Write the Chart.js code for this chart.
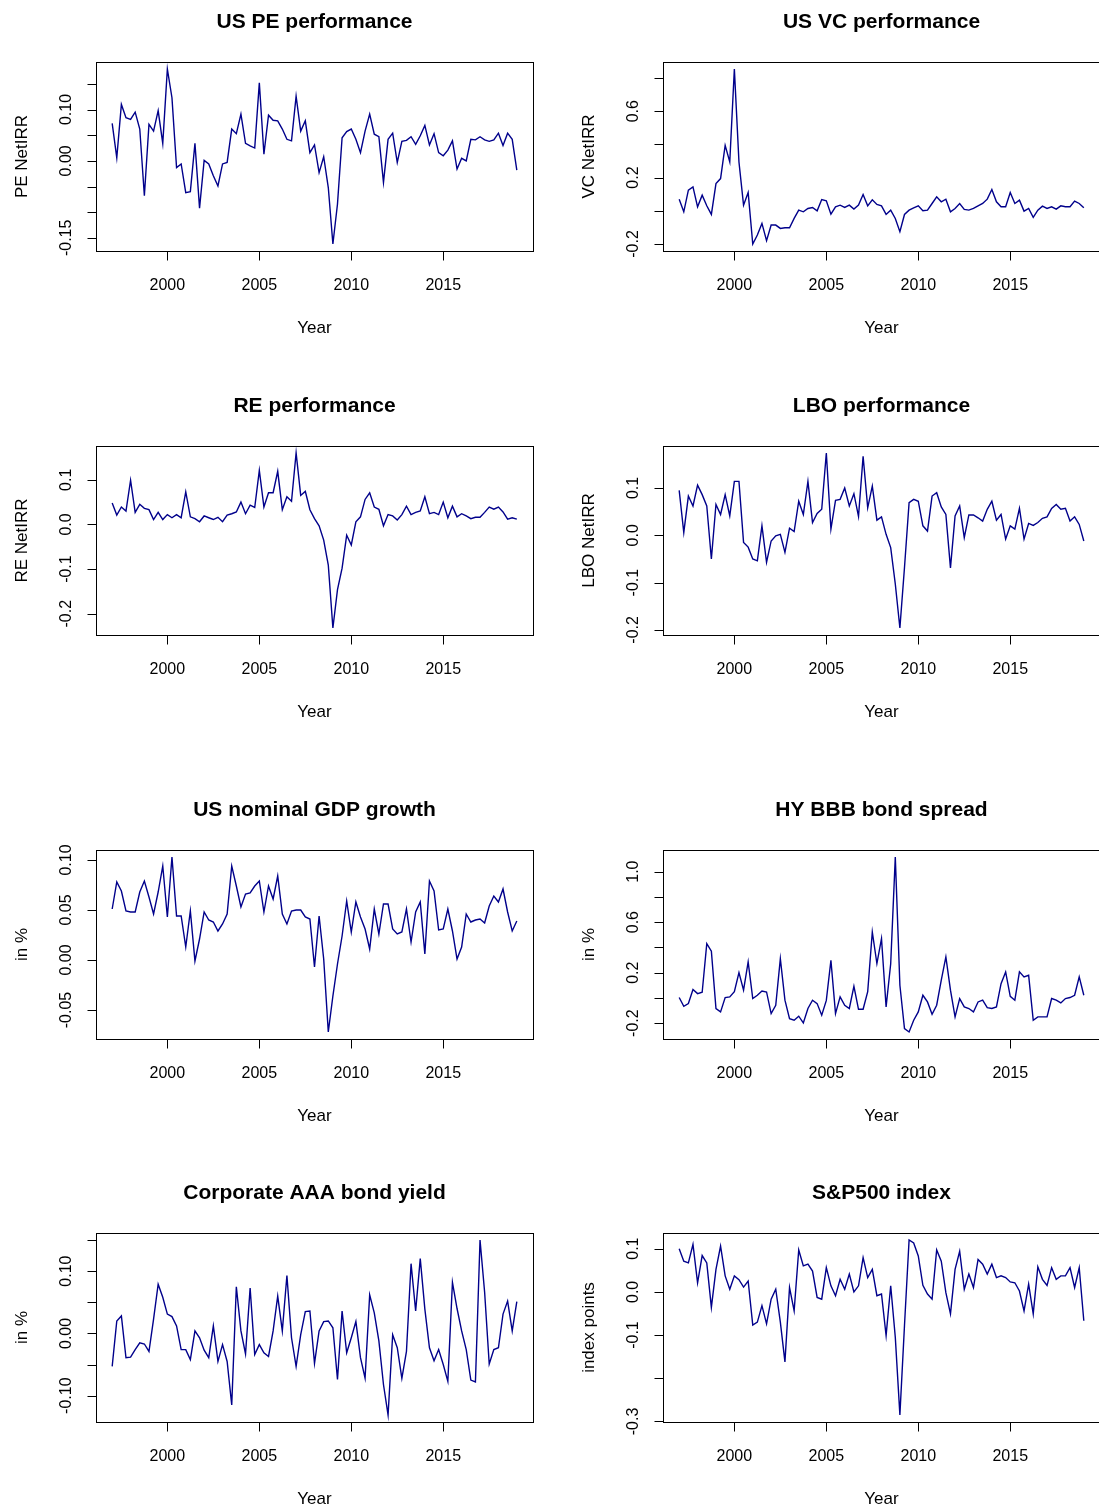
<!DOCTYPE html>
<html>
<head>
<meta charset="utf-8">
<title>Private equity and macro series</title>
<script src="https://cdn.jsdelivr.net/npm/chart.js@4.4.1/dist/chart.umd.min.js"></script>
<style>
  html, body { margin: 0; padding: 0; background: #fff; overflow: hidden; }
  #page { position: relative; width: 1099px; height: 1508px; overflow: hidden; background: #fff; }
  #page canvas { position: absolute; }
</style>
</head>
<body>
<div id="page"></div>
<script>
// Quarterly observations, 1997 Q1 .. 2019 Q1
const quarters = Array.from({ length: 89 }, (_, i) => 1997 + i / 4);

const peIRR = [0.073, 0.006, 0.110, 0.084, 0.081, 0.095, 0.062, -0.068, 0.071, 0.058,
  0.098, 0.034, 0.179, 0.123, -0.013, -0.006, -0.062, -0.060, 0.034, -0.092,
  0.001, -0.006, -0.029, -0.049, -0.006, -0.003, 0.062, 0.053, 0.091, 0.034,
  0.029, 0.025, 0.152, 0.013, 0.089, 0.079, 0.078, 0.062, 0.042, 0.039,
  0.126, 0.058, 0.078, 0.016, 0.031, -0.023, 0.008, -0.052, -0.162, -0.084,
  0.045, 0.057, 0.062, 0.042, 0.016, 0.058, 0.091, 0.052, 0.047, -0.042,
  0.042, 0.054, -0.003, 0.038, 0.040, 0.047, 0.032, 0.049, 0.069, 0.031,
  0.053, 0.016, 0.010, 0.021, 0.039, -0.016, 0.005, 0.000, 0.042, 0.041,
  0.047, 0.041, 0.038, 0.041, 0.054, 0.030, 0.054, 0.042, -0.018];

const vcIRR = [0.070, -0.006, 0.124, 0.144, 0.024, 0.094, 0.030, -0.022, 0.164, 0.194,
  0.394, 0.294, 0.854, 0.294, 0.034, 0.110, -0.200, -0.146, -0.076, -0.180,
  -0.086, -0.086, -0.106, -0.102, -0.102, -0.046, 0.004, -0.006, 0.014, 0.020,
  0.000, 0.068, 0.060, -0.020, 0.024, 0.034, 0.020, 0.034, 0.010, 0.034,
  0.098, 0.030, 0.066, 0.038, 0.030, -0.022, 0.004, -0.046, -0.126, -0.022,
  0.004, 0.018, 0.030, 0.000, 0.004, 0.044, 0.084, 0.054, 0.070, -0.006,
  0.014, 0.044, 0.008, 0.004, 0.014, 0.030, 0.044, 0.070, 0.128, 0.054,
  0.024, 0.024, 0.110, 0.044, 0.064, -0.002, 0.014, -0.040, 0.004, 0.028,
  0.014, 0.024, 0.010, 0.030, 0.024, 0.024, 0.058, 0.044, 0.018];

const reIRR = [0.048, 0.021, 0.039, 0.030, 0.099, 0.027, 0.045, 0.036, 0.033, 0.011,
  0.027, 0.011, 0.022, 0.015, 0.022, 0.015, 0.073, 0.017, 0.013, 0.006,
  0.019, 0.015, 0.011, 0.016, 0.006, 0.021, 0.024, 0.028, 0.050, 0.024,
  0.043, 0.038, 0.121, 0.039, 0.071, 0.071, 0.119, 0.033, 0.062, 0.052,
  0.160, 0.065, 0.074, 0.033, 0.013, -0.003, -0.035, -0.091, -0.232, -0.146,
  -0.098, -0.024, -0.046, 0.006, 0.017, 0.056, 0.071, 0.039, 0.034, -0.003,
  0.022, 0.019, 0.010, 0.022, 0.041, 0.022, 0.027, 0.030, 0.062, 0.024,
  0.027, 0.022, 0.050, 0.015, 0.041, 0.017, 0.024, 0.019, 0.013, 0.016,
  0.016, 0.027, 0.039, 0.034, 0.039, 0.028, 0.012, 0.015, 0.012];

const lboIRR = [0.095, 0.006, 0.083, 0.062, 0.106, 0.086, 0.062, -0.050, 0.065, 0.044,
  0.086, 0.041, 0.114, 0.114, -0.015, -0.025, -0.050, -0.054, 0.020, -0.057,
  -0.012, -0.001, 0.002, -0.036, 0.015, 0.008, 0.072, 0.044, 0.114, 0.027,
  0.046, 0.055, 0.174, 0.013, 0.074, 0.076, 0.100, 0.062, 0.088, 0.040,
  0.167, 0.058, 0.104, 0.032, 0.039, 0.002, -0.026, -0.103, -0.196, -0.068,
  0.069, 0.076, 0.072, 0.020, 0.009, 0.083, 0.090, 0.060, 0.044, -0.069,
  0.041, 0.062, -0.005, 0.043, 0.043, 0.037, 0.030, 0.055, 0.072, 0.032,
  0.044, -0.008, 0.020, 0.013, 0.057, -0.008, 0.025, 0.021, 0.027, 0.036,
  0.039, 0.057, 0.065, 0.055, 0.057, 0.030, 0.039, 0.023, -0.012];

const gdpGrowth = [0.051, 0.078, 0.069, 0.049, 0.048, 0.048, 0.068, 0.079, 0.063, 0.046,
  0.068, 0.094, 0.043, 0.103, 0.044, 0.044, 0.013, 0.049, -0.001, 0.021,
  0.048, 0.040, 0.038, 0.029, 0.036, 0.046, 0.094, 0.074, 0.053, 0.066,
  0.067, 0.074, 0.079, 0.048, 0.074, 0.061, 0.084, 0.046, 0.036, 0.049,
  0.050, 0.050, 0.043, 0.041, -0.007, 0.044, 0.001, -0.072, -0.036, -0.004,
  0.024, 0.059, 0.028, 0.058, 0.043, 0.031, 0.011, 0.051, 0.026, 0.056,
  0.056, 0.031, 0.026, 0.028, 0.051, 0.018, 0.048, 0.058, 0.006, 0.079,
  0.069, 0.030, 0.031, 0.051, 0.029, 0.001, 0.013, 0.046, 0.038, 0.040,
  0.041, 0.037, 0.054, 0.064, 0.058, 0.071, 0.048, 0.029, 0.039];

const hyBbbSpread = [0.003, -0.066, -0.045, 0.066, 0.034, 0.045, 0.430, 0.370, -0.084, -0.111,
  0.003, 0.008, 0.050, 0.200, 0.061, 0.285, -0.005, 0.021, 0.055, 0.047,
  -0.124, -0.058, 0.311, -0.018, -0.164, -0.177, -0.145, -0.198, -0.084, -0.018,
  -0.045, -0.137, -0.020, 0.298, -0.124, 0.008, -0.058, -0.084, 0.092, -0.090,
  -0.090, 0.050, 0.522, 0.272, 0.470, -0.071, 0.270, 1.116, 0.100, -0.243,
  -0.270, -0.177, -0.111, 0.021, -0.032, -0.129, -0.058, 0.140, 0.325, 0.061,
  -0.150, -0.005, -0.071, -0.084, -0.111, -0.032, -0.018, -0.077, -0.084, -0.071,
  0.113, 0.206, 0.013, -0.018, 0.206, 0.166, 0.179, -0.177, -0.150, -0.150,
  -0.150, -0.005, -0.018, -0.040, -0.005, 0.003, 0.021, 0.166, 0.021];

const aaaYield = [-0.053, 0.020, 0.028, -0.039, -0.038, -0.026, -0.015, -0.017, -0.029, 0.023,
  0.079, 0.058, 0.031, 0.027, 0.012, -0.026, -0.026, -0.042, 0.004, -0.007,
  -0.027, -0.039, 0.012, -0.045, -0.018, -0.045, -0.115, 0.075, 0.004, -0.033,
  0.073, -0.034, -0.018, -0.031, -0.037, 0.004, 0.060, 0.004, 0.093, -0.007,
  -0.053, -0.002, 0.035, 0.036, -0.048, 0.004, 0.019, 0.020, 0.009, -0.074,
  0.036, -0.031, -0.007, 0.019, -0.039, -0.072, 0.062, 0.033, -0.012, -0.082,
  -0.131, -0.002, -0.023, -0.072, -0.029, 0.112, 0.036, 0.120, 0.039, -0.023,
  -0.044, -0.026, -0.050, -0.077, 0.082, 0.040, 0.004, -0.026, -0.075, -0.078,
  0.150, 0.066, -0.049, -0.026, -0.023, 0.031, 0.052, 0.004, 0.051];

const sp500 = [0.100, 0.071, 0.067, 0.110, 0.021, 0.084, 0.067, -0.036, 0.052, 0.106,
  0.037, 0.006, 0.037, 0.028, 0.011, 0.025, -0.077, -0.070, -0.032, -0.074,
  -0.017, 0.006, -0.070, -0.162, 0.010, -0.044, 0.097, 0.060, 0.064, 0.048,
  -0.013, -0.017, 0.056, 0.014, -0.009, 0.029, 0.006, 0.041, 0.000, 0.014,
  0.079, 0.033, 0.052, -0.009, -0.005, -0.101, 0.014, -0.105, -0.285, -0.078,
  0.120, 0.113, 0.083, 0.015, -0.005, -0.017, 0.097, 0.071, -0.002, -0.051,
  0.052, 0.094, 0.006, 0.041, 0.010, 0.075, 0.064, 0.041, 0.064, 0.033,
  0.037, 0.033, 0.023, 0.021, 0.002, -0.044, 0.018, -0.051, 0.058, 0.029,
  0.015, 0.056, 0.029, 0.037, 0.037, 0.056, 0.010, 0.056, -0.067];

// Axis ticks; an empty label leaves the tick mark unlabelled
const yearTicks = [2000, 2005, 2010, 2015];
const peTicks = [-0.15, -0.10, -0.05, 0, 0.05, 0.10, 0.15];
const peTickLabels = ['-0.15', '', '', '0.00', '', '0.10', ''];
const vcTicks = [-0.2, 0, 0.2, 0.4, 0.6, 0.8];
const vcTickLabels = ['-0.2', '', '0.2', '', '0.6', ''];
const reTicks = [-0.2, -0.1, 0, 0.1];
const reTickLabels = ['-0.2', '-0.1', '0.0', '0.1'];
const lboTicks = [-0.2, -0.1, 0, 0.1];
const lboTickLabels = ['-0.2', '-0.1', '0.0', '0.1'];
const gdpTicks = [-0.05, 0, 0.05, 0.10];
const gdpTickLabels = ['-0.05', '0.00', '0.05', '0.10'];
const hyTicks = [-0.2, 0, 0.2, 0.4, 0.6, 0.8, 1.0];
const hyTickLabels = ['-0.2', '', '0.2', '', '0.6', '', '1.0'];
const aaaTicks = [-0.10, -0.05, 0, 0.05, 0.10, 0.15];
const aaaTickLabels = ['-0.10', '', '0.00', '', '0.10', ''];
const spTicks = [-0.3, -0.2, -0.1, 0, 0.1];
const spTickLabels = ['-0.3', '', '-0.1', '0.0', '0.1'];

const panels = [
  { title: 'US PE performance', yTitle: 'PE NetIRR', values: peIRR, ticks: peTicks, labels: peTickLabels, col: 0, row: 0 },
  { title: 'US VC performance', yTitle: 'VC NetIRR', values: vcIRR, ticks: vcTicks, labels: vcTickLabels, col: 1, row: 0 },
  { title: 'RE performance', yTitle: 'RE NetIRR', values: reIRR, ticks: reTicks, labels: reTickLabels, col: 0, row: 1 },
  { title: 'LBO performance', yTitle: 'LBO NetIRR', values: lboIRR, ticks: lboTicks, labels: lboTickLabels, col: 1, row: 1 },
  { title: 'US nominal GDP growth', yTitle: 'in %', values: gdpGrowth, ticks: gdpTicks, labels: gdpTickLabels, col: 0, row: 2 },
  { title: 'HY BBB bond spread', yTitle: 'in %', values: hyBbbSpread, ticks: hyTicks, labels: hyTickLabels, col: 1, row: 2 },
  { title: 'Corporate AAA bond yield', yTitle: 'in %', values: aaaYield, ticks: aaaTicks, labels: aaaTickLabels, col: 0, row: 3 },
  { title: 'S&P500 index', yTitle: 'index points', values: sp500, ticks: spTicks, labels: spTickLabels, col: 1, row: 3 }
];

// ---- layout ----
const PANEL_W = 567, PANEL_H = 383;
const ROW_TOP = [0, 384, 788, 1171];
const FONT = '"Liberation Sans", Arial, Helvetica, sans-serif';
const INK = '#000';

// Base-graphics style range: data range widened by 4% on each side
function paddedRange(arr) {
  const lo = Math.min(...arr), hi = Math.max(...arr);
  const d = (hi - lo) * 0.04;
  return { min: lo - d, max: hi + d };
}

// Box, outward ticks, rotated y labels, axis titles and main title
const baseAxes = {
  id: 'baseAxes',
  afterDatasetsDraw(chart, args, o) {
    const { ctx, chartArea: a } = chart;
    const xs = chart.scales.x, ys = chart.scales.y;
    const L = Math.round(a.left) + 0.5, T = Math.round(a.top) + 0.5;
    const R = Math.round(a.right) + 0.5, B = Math.round(a.bottom) + 0.5;
    const cx = (a.left + a.right) / 2, cy = (a.top + a.bottom) / 2;
    ctx.save();
    ctx.strokeStyle = INK;
    ctx.fillStyle = INK;
    ctx.lineWidth = 1;
    ctx.strokeRect(L, T, R - L, B - T);

    ctx.beginPath();
    o.xTicks.forEach(v => {
      const p = Math.round(xs.getPixelForValue(v)) + 0.5;
      ctx.moveTo(p, B); ctx.lineTo(p, B + o.tickLen);
    });
    o.yTicks.forEach(v => {
      const p = Math.round(ys.getPixelForValue(v)) + 0.5;
      ctx.moveTo(L, p); ctx.lineTo(L - o.tickLen, p);
    });
    ctx.stroke();

    ctx.textAlign = 'center';
    ctx.textBaseline = 'middle';
    ctx.font = `16px ${FONT}`;
    o.xTicks.forEach(v => ctx.fillText(String(v), xs.getPixelForValue(v), B + 34));
    o.yTicks.forEach((v, i) => {
      const s = o.yLabels[i];
      if (!s) return;
      ctx.save();
      ctx.translate(L - 30, ys.getPixelForValue(v));
      ctx.rotate(-Math.PI / 2);
      ctx.fillText(s, 0, 0);
      ctx.restore();
    });

    ctx.font = `17px ${FONT}`;
    ctx.fillText(o.xTitle, cx, B + 77);
    ctx.save();
    ctx.translate(L - 74, cy);
    ctx.rotate(-Math.PI / 2);
    ctx.fillText(o.yTitle, 0, 0);
    ctx.restore();

    ctx.font = `bold 21px ${FONT}`;
    ctx.fillText(o.title, cx, T - 40);
    ctx.restore();
  }
};

const page = document.getElementById('page');
const xRange = paddedRange(quarters);

panels.forEach(p => {
  const canvas = document.createElement('canvas');
  canvas.width = PANEL_W;
  canvas.height = PANEL_H;
  canvas.style.left = (p.col * PANEL_W) + 'px';
  canvas.style.top = ROW_TOP[p.row] + 'px';
  canvas.style.width = PANEL_W + 'px';
  canvas.style.height = PANEL_H + 'px';
  page.appendChild(canvas);

  const yRange = paddedRange(p.values);
  new Chart(canvas, {
    type: 'line',
    data: {
      datasets: [{
        data: quarters.map((q, i) => ({ x: q, y: p.values[i] })),
        borderColor: '#00008B',
        borderWidth: 1.4,
        pointRadius: 0,
        tension: 0,
        fill: false
      }]
    },
    options: {
      responsive: false,
      animation: false,
      devicePixelRatio: 1,
      events: [],
      layout: { padding: { left: 96, top: 62, right: 34, bottom: 132 } },
      scales: {
        x: { type: 'linear', min: xRange.min, max: xRange.max, display: false },
        y: { type: 'linear', min: yRange.min, max: yRange.max, display: false }
      },
      plugins: {
        legend: { display: false },
        tooltip: { enabled: false },
        baseAxes: {
          title: p.title,
          xTitle: 'Year',
          yTitle: p.yTitle,
          xTicks: yearTicks,
          yTicks: p.ticks,
          yLabels: p.labels,
          tickLen: 9
        }
      }
    },
    plugins: [baseAxes]
  });
});
</script>
</body>
</html>
